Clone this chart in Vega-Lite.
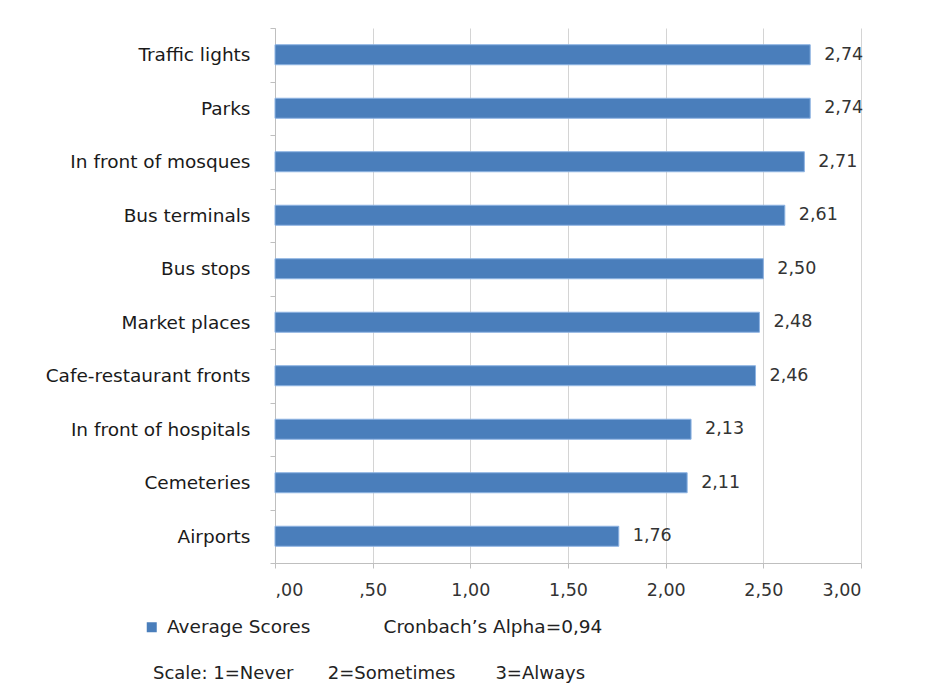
{
  "$schema": "https://vega.github.io/schema/vega-lite/v6.json",
  "autosize": "none",
  "width": 586,
  "height": 535,
  "padding": {"left": 275, "top": 28, "right": 64, "bottom": 126},
  "background": "white",
  "config": {
    "font": "DejaVu Sans",
    "view": {"stroke": null},
    "locale": {"number": {"decimal": ",", "thousands": ".", "grouping": [3], "currency": ["", " €"]}}
  },
  "title": {
    "text": "Scale: 1=Never\u00a0\u00a0\u00a0\u00a0\u00a0\u00a02=Sometimes\u00a0\u00a0\u00a0\u00a0\u00a0\u00a0\u00a03=Always",
    "orient": "bottom",
    "anchor": "start",
    "frame": "group",
    "dx": -122,
    "offset": 28,
    "fontSize": 18,
    "fontWeight": "normal",
    "color": "#222"
  },
  "data": {
    "values": [
      {"place": "Traffic lights", "score": 2.74},
      {"place": "Parks", "score": 2.74},
      {"place": "In front of mosques", "score": 2.71},
      {"place": "Bus terminals", "score": 2.61},
      {"place": "Bus stops", "score": 2.50},
      {"place": "Market places", "score": 2.48},
      {"place": "Cafe-restaurant fronts", "score": 2.46},
      {"place": "In front of hospitals", "score": 2.13},
      {"place": "Cemeteries", "score": 2.11},
      {"place": "Airports", "score": 1.76}
    ]
  },
  "encoding": {
    "y": {
      "field": "place",
      "type": "nominal",
      "sort": null,
      "scale": {"paddingInner": 0, "paddingOuter": 0},
      "axis": {
        "title": null,
        "tickBand": "extent",
        "tickSize": 5,
        "tickColor": "#BFBFBF",
        "domainColor": "#BFBFBF",
        "labelFontSize": 18.5,
        "labelColor": "#1a1a1a",
        "labelPadding": 20,
        "labelLimit": 400,
        "grid": false
      }
    },
    "x": {
      "field": "score",
      "type": "quantitative",
      "scale": {"domain": [0, 3], "nice": false, "zero": true},
      "axis": {
        "values": [0, 0.5, 1, 1.5, 2, 2.5, 3],
        "format": ".2f",
        "labelExpr": "datum.value < 1 ? replace(datum.label, '0,', ',') : datum.label",
        "grid": true,
        "gridColor": "#D4D4D4",
        "domainColor": "#BFBFBF",
        "tickColor": "#BFBFBF",
        "tickSize": 5,
        "labelFontSize": 17.5,
        "labelColor": "#333",
        "labelPadding": 13,
        "title": "Cronbach\u2019s Alpha=0,94",
        "titleX": 108,
        "titleY": 69,
        "titleAlign": "left",
        "titleAnchor": "start",
        "titleBaseline": "alphabetic",
        "titleFontSize": 18.5,
        "titleFontWeight": "normal",
        "titleColor": "#222"
      }
    }
  },
  "layer": [
    {
      "mark": {"type": "bar", "height": {"band": 0.374}, "stroke": "#8DB3E2", "strokeWidth": 1},
      "encoding": {
        "color": {
          "datum": "Average Scores",
          "type": "nominal",
          "scale": {"range": ["#4A7EBB"]},
          "legend": {
            "title": null,
            "orient": "none",
            "legendX": -132.5,
            "legendY": 590,
            "padding": 0,
            "symbolType": "square",
            "symbolSize": 100,
            "symbolStrokeWidth": 0,
            "labelFontSize": 18.5,
            "labelColor": "#222",
            "labelOffset": 6
          }
        }
      }
    },
    {
      "mark": {"type": "text", "align": "left", "baseline": "middle", "dx": 14, "fontSize": 17.5, "color": "#333"},
      "encoding": {
        "text": {"field": "score", "type": "quantitative", "format": ".2f"}
      }
    }
  ]
}
